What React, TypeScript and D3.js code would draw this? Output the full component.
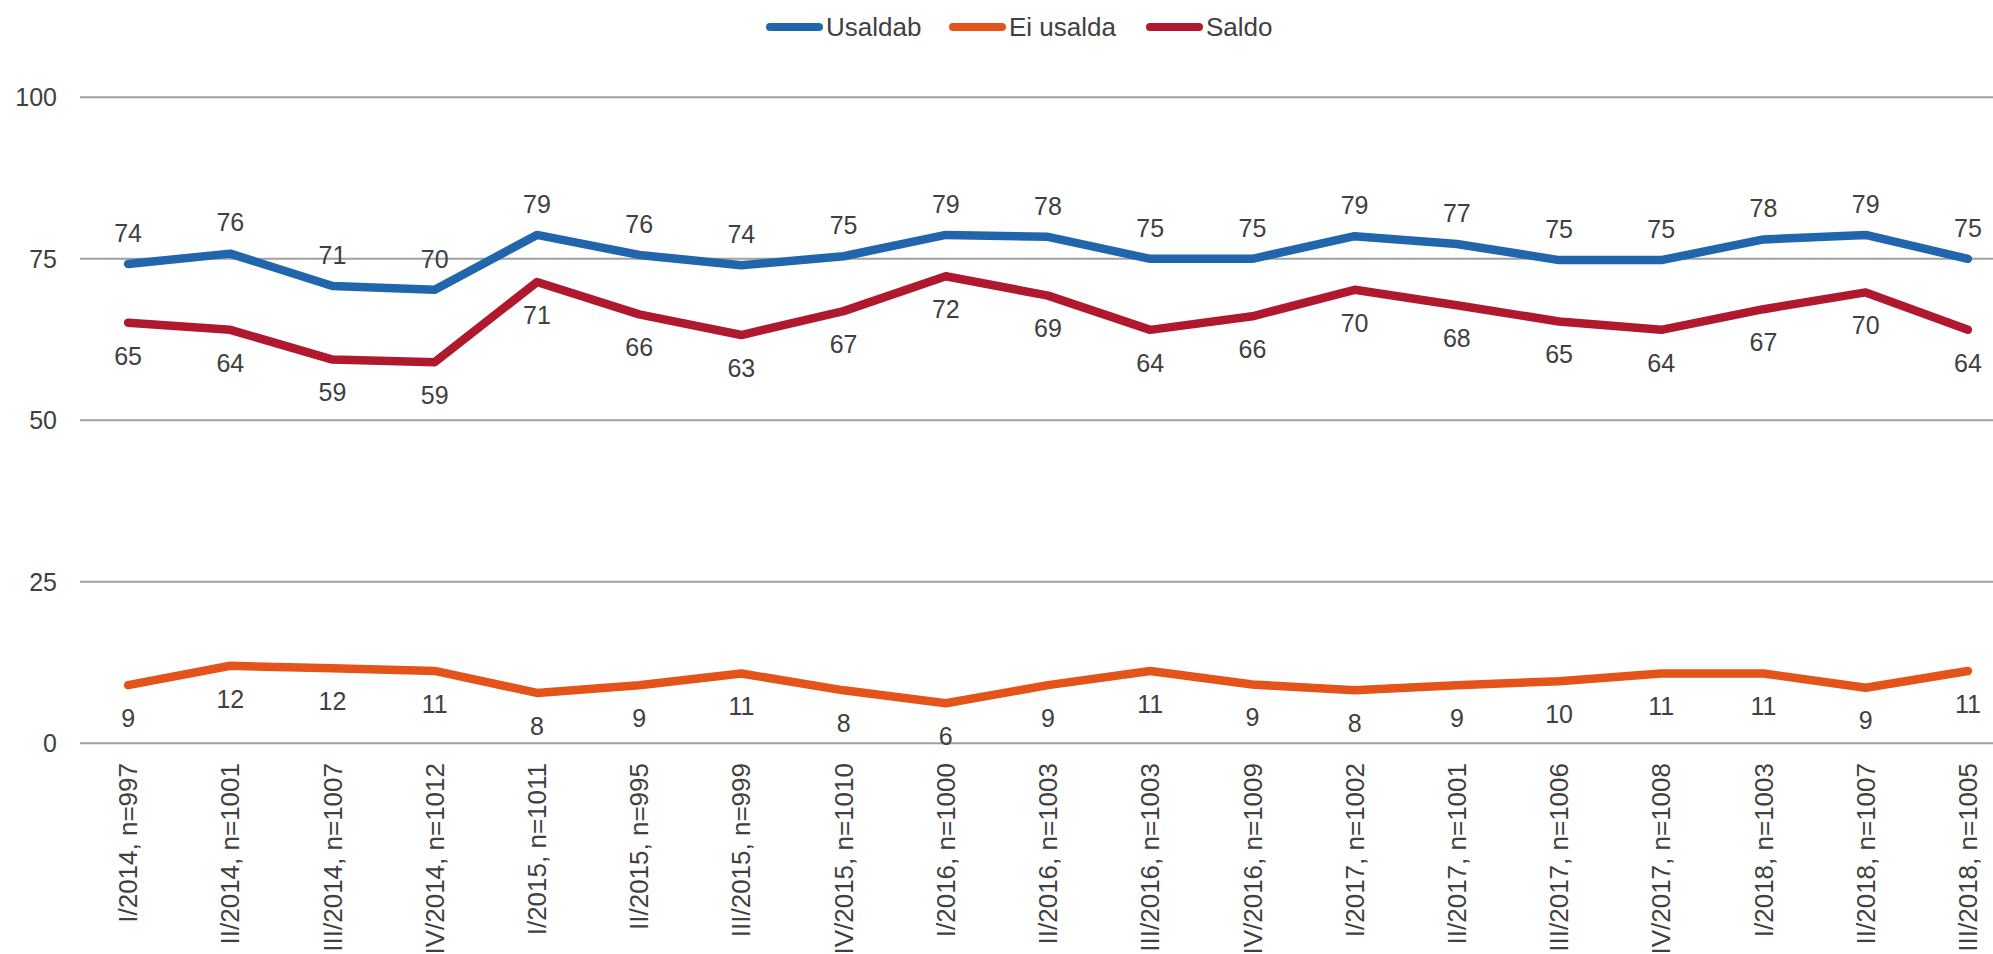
import React from 'react';
import * as d3 from 'd3';

// quarter labels with sample sizes
const categories = [
  'I/2014, n=997', 'II/2014, n=1001', 'III/2014, n=1007', 'IV/2014, n=1012',
  'I/2015, n=1011', 'II/2015, n=995', 'III/2015, n=999', 'IV/2015, n=1010',
  'I/2016, n=1000', 'II/2016, n=1003', 'III/2016, n=1003', 'IV/2016, n=1009',
  'I/2017, n=1002', 'II/2017, n=1001', 'III/2017, n=1006', 'IV/2017, n=1008',
  'I/2018, n=1003', 'II/2018, n=1007', 'III/2018, n=1005',
];

const usaldab = [74.2, 75.8, 70.8, 70.2, 78.7, 75.6, 74, 75.4, 78.7, 78.4, 75, 75, 78.5, 77.3, 74.8, 74.8, 78, 78.7, 75];
const eiUsalda = [9, 12, 11.6, 11.2, 7.8, 9, 10.8, 8.2, 6.2, 9, 11.2, 9.1, 8.2, 9, 9.6, 10.8, 10.8, 8.6, 11.2];
const saldo = [65.1, 64, 59.4, 59, 71.4, 66.4, 63.2, 66.9, 72.3, 69.3, 64, 66.1, 70.2, 67.8, 65.3, 64, 67.2, 69.8, 64];

const yTicks = [0, 25, 50, 75, 100];

const series = [
  { name: 'Usaldab', values: usaldab, color: '#2166AC', labelPos: 'above' },
  { name: 'Ei usalda', values: eiUsalda, color: '#E4531A', labelPos: 'below' },
  { name: 'Saldo', values: saldo, color: '#B0182E', labelPos: 'below' },
];

const W = 1993;
const H = 954;
const FONT = '"Liberation Sans", Arial, Helvetica, sans-serif';
const TEXT = '#404040';

export default function App() {
  const x = d3.scalePoint<string>().domain(categories).range([77, 2019]).padding(0.5);
  const y = d3.scaleLinear().domain([0, 100]).range([743.3, 97.3]);

  const line = d3.line<number>()
    .x((_, i) => x(categories[i]) as number)
    .y((d) => y(d));

  // legend layout
  const legendItems = [
    { x: 770, ...series[0] },
    { x: 953, ...series[1] },
    { x: 1150, ...series[2] },
  ];

  return (
    <svg
      width={W}
      height={H}
      viewBox={`0 0 ${W} ${H}`}
      style={{ position: 'absolute', left: 0, top: 0, display: 'block', background: '#fff' }}
      fontFamily={FONT}
    >
      {/* gridlines */}
      {yTicks.map((t) => (
        <g key={t}>
          <line x1={80} x2={W} y1={y(t)} y2={y(t)} stroke="#a0a0a0" strokeWidth={2} />
          <text x={57} y={y(t)} dy="0.35em" textAnchor="end" fontSize={25} fill={TEXT}>{t}</text>
        </g>
      ))}

      {/* lines */}
      {series.map((s) => (
        <path
          key={s.name}
          d={line(s.values) || ''}
          fill="none"
          stroke={s.color}
          strokeWidth={8.5}
          strokeLinejoin="round"
          strokeLinecap="round"
        />
      ))}

      {/* data labels */}
      {series.map((s) =>
        s.values.map((v, i) => (
          <text
            key={s.name + i}
            x={x(categories[i])}
            y={y(v) + (s.labelPos === 'above' ? -31 : 33)}
            dy="0.35em"
            textAnchor="middle"
            fontSize={25}
            fill={TEXT}
          >
            {Math.round(v)}
          </text>
        ))
      )}

      {/* x axis labels */}
      {categories.map((c) => (
        <text
          key={c}
          transform={`translate(${x(c)},763) rotate(-90)`}
          dy="0.35em"
          textAnchor="end"
          fontSize={26}
          fill={TEXT}
        >
          {c}
        </text>
      ))}

      {/* legend */}
      {legendItems.map((l) => (
        <g key={l.name}>
          <line x1={l.x} x2={l.x + 49} y1={27} y2={27} stroke={l.color} strokeWidth={8} strokeLinecap="round" />
          <text x={l.x + 56} y={27} dy="0.35em" fontSize={26} fill={TEXT}>{l.name}</text>
        </g>
      ))}
    </svg>
  );
}
